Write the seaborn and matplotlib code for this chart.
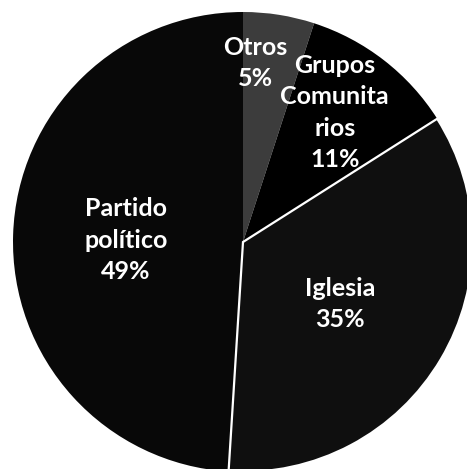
import numpy as np
import matplotlib
matplotlib.use("Agg")
import matplotlib.pyplot as plt
import seaborn as sns

# Data (clockwise from 12 o'clock)
categories = ["Otros", "Grupos\nComunita\nrios", "Iglesia", "Partido\npolítico"]
values = [5, 11, 35, 49]
colors = ["#3c3c3c", "#000000", "#0f0f0f", "#080808"]

# Layout for labels (radial distance and angular shift from wedge middle)
label_r = [0.78, 0.69, 0.50, 0.51]
label_shift = [5.0, 2.5, -2.0, 1.0]

sns.set_theme(style="white")
plt.rcParams["font.family"] = ["Lato", "DejaVu Sans"]

W, H = 467, 469
fig = plt.figure(figsize=(W / 100, H / 100), dpi=100)
ax = fig.add_axes([0, 0, 1, 1])

wedges, _ = ax.pie(values, colors=colors, startangle=90, counterclock=False,
                   radius=1.0, wedgeprops=dict(linewidth=0))
# white separators around Iglesia
wedges[2].set_edgecolor("white")
wedges[2].set_linewidth(1.6)
wedges[2].set_zorder(3)

for w, cat, v, r, s in zip(wedges, categories, values, label_r, label_shift):
    mid = np.deg2rad((w.theta1 + w.theta2) / 2 + s)
    ax.text(r * np.cos(mid), r * np.sin(mid), f"{cat}\n{v}%", color="white",
            ha="center", va="center", fontsize=18, fontweight="bold",
            linespacing=1.45, zorder=5)

scale = 230.0
cx, cy = 243.0, 242.0
ax.set_xlim(-cx / scale, (W - cx) / scale)
ax.set_ylim(-(H - cy) / scale, cy / scale)
ax.set_aspect("auto")
ax.axis("off")

fig.savefig("out.png", dpi=100, facecolor="white")
